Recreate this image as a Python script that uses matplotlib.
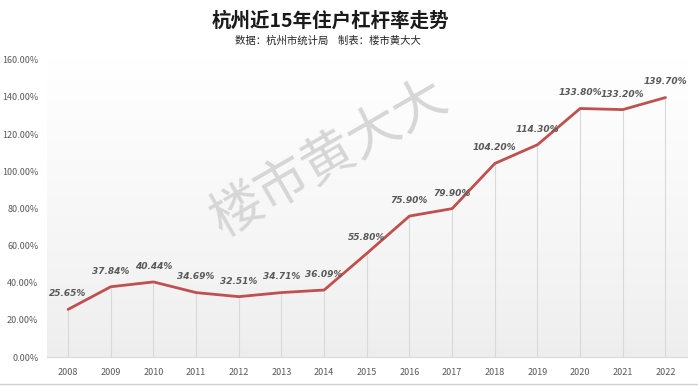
import numpy as np
import matplotlib
matplotlib.use("Agg")
import matplotlib.pyplot as plt
from matplotlib.lines import Line2D

plt.rcParams['font.family'] = ['Noto Sans CJK SC', 'DejaVu Sans']

years = ['2008', '2009', '2010', '2011', '2012', '2013', '2014', '2015',
         '2016', '2017', '2018', '2019', '2020', '2021', '2022']
leverage = [25.65, 37.84, 40.44, 34.69, 32.51, 34.71, 36.09, 55.80,
            75.90, 79.90, 104.20, 114.30, 133.80, 133.20, 139.70]
value_labels = ['25.65%', '37.84%', '40.44%', '34.69%', '32.51%', '34.71%', '36.09%',
                '55.80%', '75.90%', '79.90%', '104.20%', '114.30%', '133.80%',
                '133.20%', '139.70%']
yticks = [0, 20, 40, 60, 80, 100, 120, 140, 160]

fig = plt.figure(figsize=(6.98, 3.86), dpi=100)
ax = fig.add_axes([0.067, 0.075, 0.917, 0.77])

x = np.arange(len(years))

# gray gradient background, white at the top
t = np.linspace(0, 1, 256)
grad = (0.93 + 0.07 * t ** 0.8).reshape(-1, 1)
grad = np.dstack([grad, grad, grad])
ax.imshow(grad, extent=[0, 1, 0, 1], transform=ax.transAxes, origin='lower',
          aspect='auto', zorder=0)

# drop lines
ax.vlines(x, 0, leverage, color='#d9d9d9', lw=0.8, zorder=1)

ax.plot(x, leverage, color='#c0504d', lw=2, zorder=3, solid_capstyle='round')

for xi, v, lab in zip(x, leverage, value_labels):
    ax.annotate(lab, (xi, v), xytext=(0, 8), textcoords='offset points',
                ha='center', va='bottom', fontsize=6.5, style='italic',
                fontweight='bold', color='#595959', family='DejaVu Sans')

ax.set_xlim(-0.5, len(years) - 0.5)
ax.set_ylim(0, 160)
ax.set_xticks(x)
ax.set_xticklabels(years)
ax.set_yticks(yticks)
ax.set_yticklabels([f'{t:.2f}%' for t in yticks])
ax.tick_params(length=0, labelsize=6.5, colors='#595959', pad=8)
ax.tick_params(axis='y', pad=6)
for s in ['top', 'right', 'left']:
    ax.spines[s].set_visible(False)
ax.spines['bottom'].set_color('#d9d9d9')
ax.spines['bottom'].set_zorder(2)

# watermark
ax.text(0.44, 0.67, '楼市黄大大', transform=ax.transAxes, fontsize=38,
        rotation=30, color='#d6d6d6', ha='center', va='center', zorder=2)

fig.text(0.473, 0.945, '杭州近15年住户杠杆率走势', ha='center', va='center',
         fontsize=14, fontweight='bold', color='#1a1a1a')
fig.text(0.47, 0.895, '数据：杭州市统计局    制表：楼市黄大大', ha='center', va='center',
         fontsize=7.5, color='#262626')

# spreadsheet border at bottom
fig.add_artist(Line2D([0, 1], [0.006, 0.006], transform=fig.transFigure,
                      color='#d0d0d0', lw=1))

fig.savefig('out.png', dpi=100)
